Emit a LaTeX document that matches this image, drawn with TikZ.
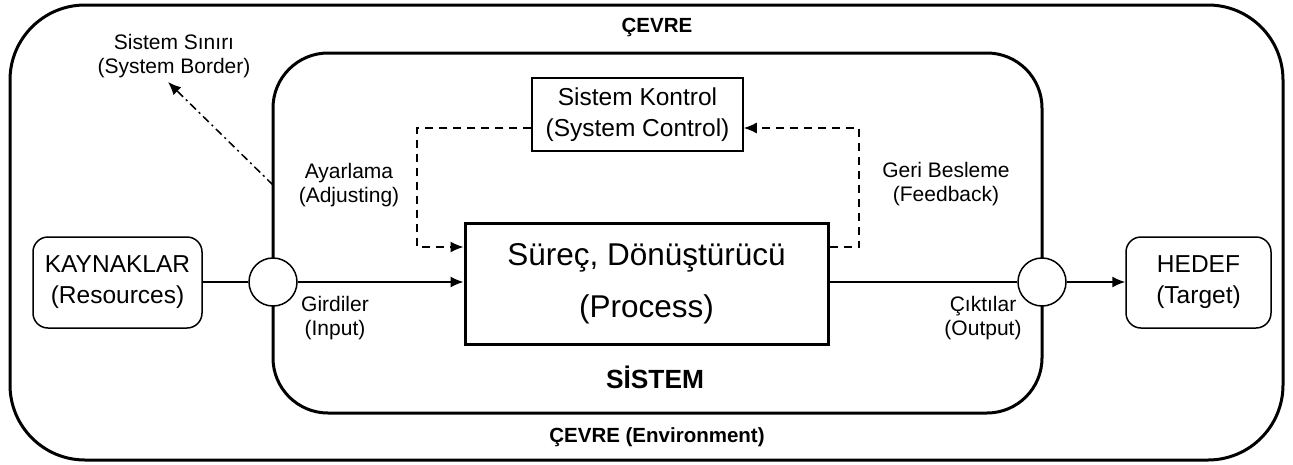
\documentclass[tikz,border=0pt]{standalone}
\usepackage{fontspec}
\setmainfont{Liberation Sans}
\usetikzlibrary{arrows.meta,calc}
\begin{document}
\begin{tikzpicture}[x=1pt,y=-1pt,
  lbl/.style={align=center,font=\fontsize{21}{24}\selectfont,inner sep=0pt},
  boxtxt/.style={align=center,font=\fontsize{24.5}{31}\selectfont},
  endbox/.style={draw,line width=1.5pt,rounded corners=15pt,minimum width=169pt,minimum height=91pt,boxtxt,inner sep=0pt},
  port/.style={draw,circle,fill=white,line width=1.5pt,minimum size=48pt,inner sep=0pt},
  ttl/.style={font=\fontsize{20.5}{24}\selectfont\bfseries,inner sep=0pt},
  arr/.style={-{Latex[length=13pt,width=11pt]}},
  thin/.style={line width=1.5pt},
  dsh/.style={line width=1.5pt,dash pattern=on 8pt off 6pt}
]
\useasboundingbox (0,0) rectangle (1293,464);
% environment and system borders
\draw[line width=3pt,rounded corners=75pt] (10,5) rectangle (1283,460);
\draw[line width=3pt,rounded corners=55pt] (273,53) rectangle (1042,413);
% texts
\node[ttl] (cevre) at (657,27) {ÇEVRE};
\node[ttl] (env) at (657,437) {ÇEVRE (Environment)};
\node[font=\fontsize{26.3}{30}\selectfont\bfseries,inner sep=0pt] (sis) at (655,377) {SİSTEM};
\node[lbl] (sinir) at (174,56) {Sistem Sınırı\\(System Border)};
% boxes
\node[endbox] (kay) at (117.5,282.5) {KAYNAKLAR\\(Resources)};
\node[endbox,minimum width=145pt] (hed) at (1198.5,282.5) {HEDEF\\(Target)};
\node[draw,line width=3pt,minimum width=363pt,minimum height=121pt,align=center,
      font=\fontsize{31.5}{52}\selectfont,inner sep=0pt] (proc) at (646.5,283.5)
      {Süreç, Dönüştürücü\\(Process)};
\node[draw,thin,minimum width=211pt,minimum height=73pt,boxtxt,inner sep=0pt] (ctrl) at (637.5,114.5)
      {Sistem Kontrol\\(System Control)};
% ports
\node[port] (pin) at (273,282) {};
\node[port] (pout) at (1042,282) {};
% labels
\node[lbl] (ayar) at (349,185) {Ayarlama\\(Adjusting)};
\node[lbl] (geri) at (946,184) {Geri Besleme\\(Feedback)};
\node[lbl] (gird) at (335,318) {Girdiler\\(Input)};
\node[lbl] (cikti) at (983,318) {Çıktılar\\(Output)};
% flows
\draw[thin] (kay.east |- pin) -- (pin.west);
\draw[thin,arr] (pin.east) -- (proc.west |- pin);
\draw[thin] (proc.east |- pout) -- (pout.west);
\draw[thin,arr] (pout.east) -- (hed.west |- pout);
% control loop
\coordinate (cl) at (417,128);
\coordinate (cr) at (859,128);
\draw[dsh,arr] (ctrl.west |- cl) -- (cl) -- (cl |- 0,247) -- (proc.west |- 0,247);
\draw[dsh,arr] (proc.east |- 0,247) -- (cr |- 0,247) -- (cr) -- (ctrl.east |- cr);
% system border pointer
\coordinate (sb) at (273,185);
\draw[line width=1.5pt,dash pattern=on 8pt off 4pt on 2pt off 4pt,arr] (sb) -- (168,82);
\end{tikzpicture}
\end{document}
